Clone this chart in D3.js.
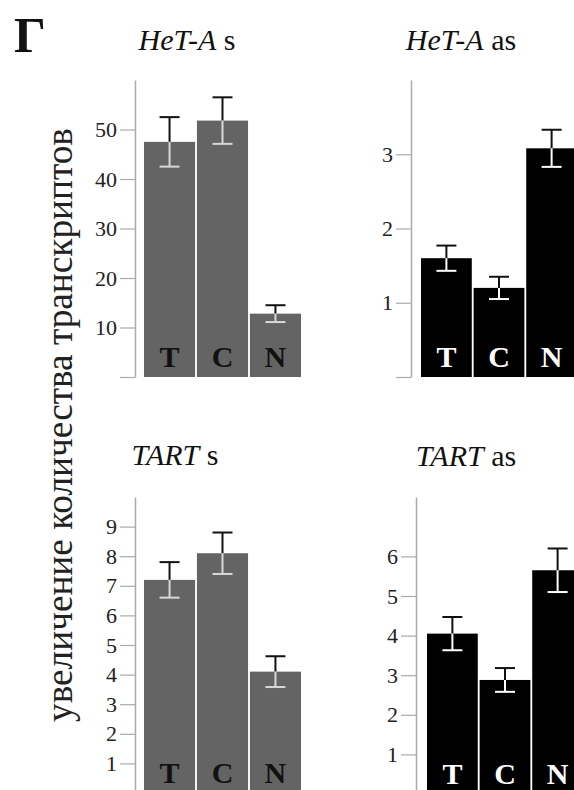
<!DOCTYPE html>
<html>
<head>
<meta charset="utf-8">
<script src="https://cdn.jsdelivr.net/npm/d3@7"></script>
<style>
  html, body { margin: 0; padding: 0; background: #fff; }
  svg { display: block; }
</style>
</head>
<body>
<svg id="chart" width="574" height="790"></svg>
<script>
// ---- data ----
const categories = ["T", "C", "N"];

const hetaSenseValues = [47.5, 51.8, 12.8];
const hetaSenseErrors = [5.0, 4.7, 1.7];

const hetaAntisenseValues = [1.6, 1.2, 3.08];
const hetaAntisenseErrors = [0.17, 0.15, 0.25];

const tartSenseValues = [7.2, 8.1, 4.1];
const tartSenseErrors = [0.6, 0.7, 0.52];

const tartAntisenseValues = [4.05, 2.88, 5.65];
const tartAntisenseErrors = [0.42, 0.3, 0.55];

const hetaSenseTicks = [0, 10, 20, 30, 40, 50];
const hetaAntisenseTicks = [0, 1, 2, 3];
const tartSenseTicks = [1, 2, 3, 4, 5, 6, 7, 8, 9];
const tartAntisenseTicks = [1, 2, 3, 4, 5, 6];

const panelLetter = "Г";
const yAxisLabel = "увеличение количества транскриптов";

// ---- layout ----
const panels = [
  { italic: "HeT-A", plain: " s", values: hetaSenseValues, errors: hetaSenseErrors, ticks: hetaSenseTicks,
    domain: [0, 60], yRange: [377, 80], xRange: [144, 301], axisX: 135, titleX: 187, titleY: 50,
    barColor: "#646464", labelColor: "#111", innerErr: "#d8d8d8" },
  { italic: "HeT-A", plain: " as", values: hetaAntisenseValues, errors: hetaAntisenseErrors, ticks: hetaAntisenseTicks,
    domain: [0, 4], yRange: [377, 80], xRange: [421, 577], axisX: 411, titleX: 461, titleY: 50,
    barColor: "#000", labelColor: "#fff", innerErr: "#fff" },
  { italic: "TART", plain: " s", values: tartSenseValues, errors: tartSenseErrors, ticks: tartSenseTicks,
    domain: [0, 10], yRange: [793, 497], xRange: [144, 301], axisX: 135, titleX: 175, titleY: 465,
    barColor: "#646464", labelColor: "#111", innerErr: "#d8d8d8" },
  { italic: "TART", plain: " as", values: tartAntisenseValues, errors: tartAntisenseErrors, ticks: tartAntisenseTicks,
    domain: [0, 7.5], yRange: [794, 497], xRange: [427, 583], axisX: 416, titleX: 466, titleY: 466,
    barColor: "#000", labelColor: "#fff", innerErr: "#fff" }
];

const svg = d3.select("#chart");
const serif = "Liberation Serif, Times New Roman, serif";

// panel letter
svg.append("text")
  .attr("x", 14).attr("y", 52)
  .attr("font-family", serif).attr("font-weight", "bold").attr("font-size", 50)
  .attr("fill", "#111")
  .text(panelLetter);

// y-axis label (serif, sized to span the same length as the reference)
const yl = svg.append("text")
  .attr("transform", "translate(72,425) rotate(-90)")
  .attr("text-anchor", "middle")
  .attr("font-family", serif).attr("font-size", 36)
  .attr("fill", "#222")
  .text(yAxisLabel);
const ylLen = yl.node().getComputedTextLength();
if (ylLen > 0) yl.attr("font-size", 36 * 594 / ylLen);

panels.forEach(p => {
  const g = svg.append("g");
  const y = d3.scaleLinear().domain(p.domain).range(p.yRange);
  const x = d3.scaleBand().domain(categories).range(p.xRange).paddingInner(0.035).paddingOuter(0);

  // title
  const t = g.append("text")
    .attr("x", p.titleX).attr("y", p.titleY)
    .attr("text-anchor", "middle")
    .attr("font-family", serif).attr("font-size", 30).attr("fill", "#111");
  t.append("tspan").attr("font-style", "italic").text(p.italic);
  t.append("tspan").text(p.plain);

  // axis
  const axis = d3.axisLeft(y).tickValues(p.ticks).tickSize(15).tickPadding(3).tickSizeOuter(0)
    .tickFormat(d => d === 0 ? "" : d3.format("d")(d));
  const ag = g.append("g").attr("transform", `translate(${p.axisX},0)`).call(axis)
    .attr("font-family", serif).attr("font-size", 22);
  ag.select(".domain").attr("stroke", "#aaa").attr("stroke-width", 1.5);
  ag.selectAll(".tick line").attr("stroke", "#aaa").attr("stroke-width", 1.2);
  ag.selectAll(".tick text").attr("fill", "#222");

  const data = categories.map((c, i) => ({ c, v: p.values[i], e: p.errors[i] }));

  // bars
  g.selectAll("rect.bar").data(data).enter().append("rect")
    .attr("class", "bar")
    .attr("x", d => x(d.c)).attr("width", x.bandwidth())
    .attr("y", d => y(d.v)).attr("height", d => y(0) - y(d.v))
    .attr("fill", p.barColor);

  const cap = 10;
  const cx = d => x(d.c) + x.bandwidth() / 2;
  // error bars: upper part (black)
  g.selectAll("line.eu").data(data).enter().append("line")
    .attr("x1", cx).attr("x2", cx)
    .attr("y1", d => y(d.v)).attr("y2", d => y(d.v + d.e))
    .attr("stroke", "#111").attr("stroke-width", 2);
  g.selectAll("line.euc").data(data).enter().append("line")
    .attr("x1", d => cx(d) - cap).attr("x2", d => cx(d) + cap)
    .attr("y1", d => y(d.v + d.e)).attr("y2", d => y(d.v + d.e))
    .attr("stroke", "#111").attr("stroke-width", 2);
  // lower part (inside bar, light)
  g.selectAll("line.el").data(data).enter().append("line")
    .attr("x1", cx).attr("x2", cx)
    .attr("y1", d => y(d.v)).attr("y2", d => y(d.v - d.e))
    .attr("stroke", p.innerErr).attr("stroke-width", 2);
  g.selectAll("line.elc").data(data).enter().append("line")
    .attr("x1", d => cx(d) - cap).attr("x2", d => cx(d) + cap)
    .attr("y1", d => y(d.v - d.e)).attr("y2", d => y(d.v - d.e))
    .attr("stroke", p.innerErr).attr("stroke-width", 2);

  // bar letters
  g.selectAll("text.bl").data(data).enter().append("text")
    .attr("x", cx)
    .attr("y", y(0) - 10)
    .attr("text-anchor", "middle")
    .attr("font-family", serif).attr("font-weight", "bold").attr("font-size", 30)
    .attr("fill", p.labelColor)
    .text(d => d.c);
});
</script>
</body>
</html>
